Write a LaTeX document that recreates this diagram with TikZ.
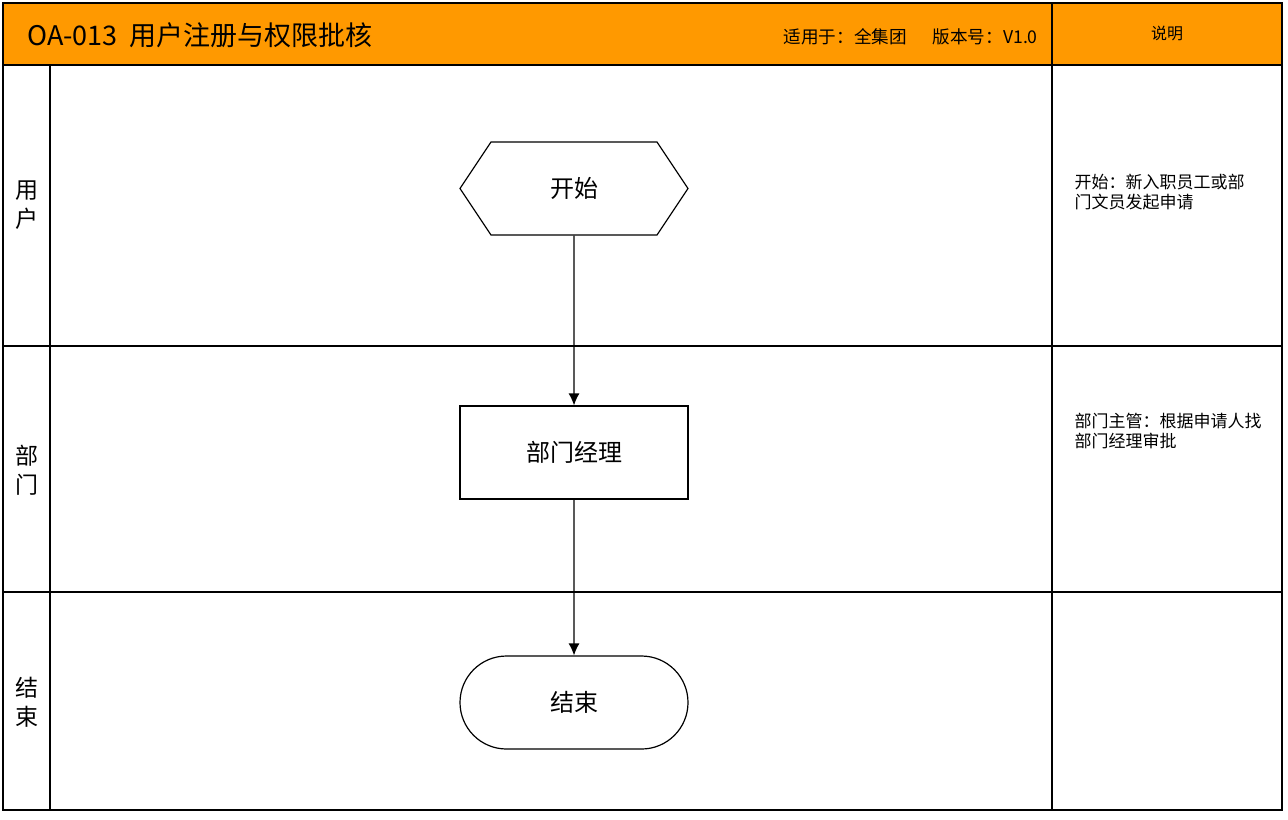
\documentclass[tikz,border=0pt]{standalone}
\usepackage{fontspec}
\setmainfont{Noto Sans CJK SC}
\usetikzlibrary{shapes.misc, shapes.symbols, arrows.meta}
\definecolor{headorange}{HTML}{FF9900}

\begin{document}
\begin{tikzpicture}[->, >={Latex[length=6pt,width=5.5pt]}, x=0.5pt, y=-0.5pt, semithick]

    \tikzstyle{frame}=[-, line width=0.8pt]
    \tikzstyle{box}=[draw, -, line width=0.6pt, minimum width=114pt, minimum height=46.5pt,
                     inner sep=0pt, font=\fontsize{12}{14}\selectfont]
    \tikzstyle{lane}=[align=center, font=\fontsize{11.5}{14.5}\selectfont]
    \tikzstyle{note}=[anchor=north west, align=left, inner sep=0pt, font=\fontsize{8.5}{10}\selectfont]

    \useasboundingbox (0,0) rectangle (1288,819);

    % header
    \fill[headorange] (3,3) rectangle (1282,65);
    \node[anchor=west, font=\fontsize{13.5}{15}\selectfont] (title) at (20,35) {OA-013\hspace{6pt}用户注册与权限批核};
    \node[anchor=east, font=\fontsize{8.8}{10}\selectfont] (scope) at (1045,37) {适用于：全集团\hspace{13pt}版本号：V1.0};
    \node[font=\fontsize{8}{10}\selectfont] (explain) at (1167,33) {说明};

    % grid
    \draw[frame] (3,3) rectangle (1282,810);
    \draw[frame] (3,65) -- (1282,65);
    \draw[frame] (3,346) -- (1282,346);
    \draw[frame] (3,592) -- (1282,592);
    \draw[frame] (50,65) -- (50,810);
    \draw[frame] (1052,3) -- (1052,810);

    % lanes
    \node[lane] (laneA) at (27,205) {用\\户};
    \node[lane] (laneB) at (27,470) {部\\门};
    \node[lane] (laneC) at (27,702) {结\\束};

    % flow
    \node[box, signal, signal to=west and east, signal pointer angle=112.6] (start) at (574,188.5) {开始};
    \node[box] (mgr) at (574,452.5) {部门经理};
    \node[box, rounded rectangle] (end) at (574,702.5) {结束};

    \draw (start) -- (mgr);
    \draw (mgr) -- (end);

    % notes
    \node[note] (noteA) at (1074,174) {开始：新入职员工或部\\门文员发起申请};
    \node[note] (noteB) at (1074,413) {部门主管：根据申请人找\\部门经理审批};

\end{tikzpicture}
\end{document}
